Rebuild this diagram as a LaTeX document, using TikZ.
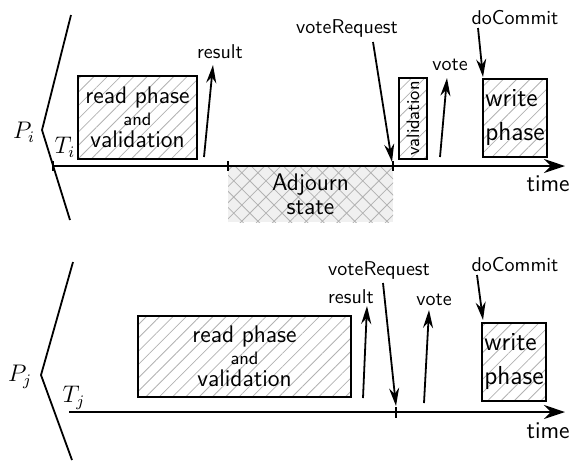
\documentclass[tikz,border=0pt]{standalone}
\usetikzlibrary{arrows.meta,patterns.meta}
\renewcommand{\familydefault}{\sfdefault}

\begin{document}
\begin{tikzpicture}[x=0.5pt,y=-0.5pt,
	phase/.style={ draw, line width=1pt, inner sep=1pt, align=center, font=\large, pattern={Lines[angle=45,distance=4.7pt,line width=0.4pt]}, pattern color=black!30 },
	adjourn/.style={ inner sep=0pt, align=center, font=\large, preaction={fill=black!6}, pattern={Hatch[angle=45,distance=5.7pt,line width=0.4pt]}, pattern color=black!30 },
	msg/.style={ line width=0.9pt, -{Stealth[length=9pt,width=5pt]} },
	timeline/.style={ line width=1pt, -{Stealth[length=10.5pt,width=7pt]} },
	proc/.style={ line width=0.9pt },
	lbl/.style={ inner sep=0pt }
]
\useasboundingbox (0,0) rectangle (571,463);

% process P_i
\node at (310.5,194) (adj) [adjourn,minimum width=82.5pt,minimum height=28pt] {Adjourn\\[-2pt]state};
\draw[proc] (71,15) -- (42,130) -- (70,220);
\node at (24,132) (pi) [lbl,font=\large] {$P_i$};
\node at (65,147) (ti) [lbl,font=\large] {$T_i$};
\coordinate (ti0) at (53,166);
\coordinate (ti1) at (565,166);
\draw[timeline] (ti0) -- (ti1);
\node at (570,184) (timei) [lbl,anchor=east,font=\large] {time};
\foreach \x in {53,228,393} \draw[proc] (\x,161) -- (\x,171);

\node at (137.5,117.5) (readi) [phase,minimum width=59.5pt,minimum height=41.5pt] {read phase\\[-3pt]{\small and}\\[-3pt]validation};
\node at (413,118.5) (vali) [phase,minimum width=14pt,minimum height=40.5pt] {};
\node at (vali) (valitxt) [lbl,rotate=90,font=\small] {validation};
\node at (515,118) (writei) [phase,align=left,minimum width=32pt,minimum height=39pt,font=\fontsize{13}{16}\selectfont] {write\\[1pt]phase};

\node at (220,52) (resi) [lbl] {result};
\node at (347,28) (reqi) [lbl] {voteRequest};
\node at (450,65) (votei) [lbl] {vote};
\node at (515,18) (comi) [lbl] {doCommit};
\coordinate (resi0) at (204,157); \coordinate (resi1) at (213,65);
\coordinate (reqi0) at (373,42); \coordinate (reqi1) at (392,162);
\coordinate (votei0) at (440,157); \coordinate (votei1) at (447,78);
\coordinate (comi0) at (478,28); \coordinate (comi1) at (483,77);
\foreach \m in {resi,reqi,votei,comi} \draw[msg] (\m0) to (\m1);

% process P_j
\draw[proc] (73,262) -- (41,375) -- (72,460);
\node at (20,377) (pj) [lbl,font=\large] {$P_j$};
\node at (74,398) (tj) [lbl,font=\large] {$T_j$};
\coordinate (tj0) at (69,412);
\coordinate (tj1) at (565,412);
\draw[timeline] (tj0) -- (tj1);
\node at (570,431) (timej) [lbl,anchor=east,font=\large] {time};
\draw[proc] (396,407) -- (396,418);

\node at (244.5,356.5) (readj) [phase,minimum width=106.5pt,minimum height=40.5pt] {read phase\\[-3pt]{\small and}\\[-3pt]validation};
\node at (514,362) (writej) [phase,align=left,minimum width=32pt,minimum height=39pt,font=\fontsize{13}{16}\selectfont] {write\\[1pt]phase};

\node at (351,297) (resj) [lbl] {result};
\node at (379,270) (reqj) [lbl] {voteRequest};
\node at (434,300) (votej) [lbl] {vote};
\node at (515,265) (comj) [lbl] {doCommit};
\coordinate (resj0) at (363,398); \coordinate (resj1) at (367,306);
\coordinate (reqj0) at (383,283); \coordinate (reqj1) at (396,406);
\coordinate (votej0) at (424,403); \coordinate (votej1) at (429,310);
\coordinate (comj0) at (477,275); \coordinate (comj1) at (483,320);
\foreach \m in {resj,reqj,votej,comj} \draw[msg] (\m0) to (\m1);

\end{tikzpicture}
\end{document}
